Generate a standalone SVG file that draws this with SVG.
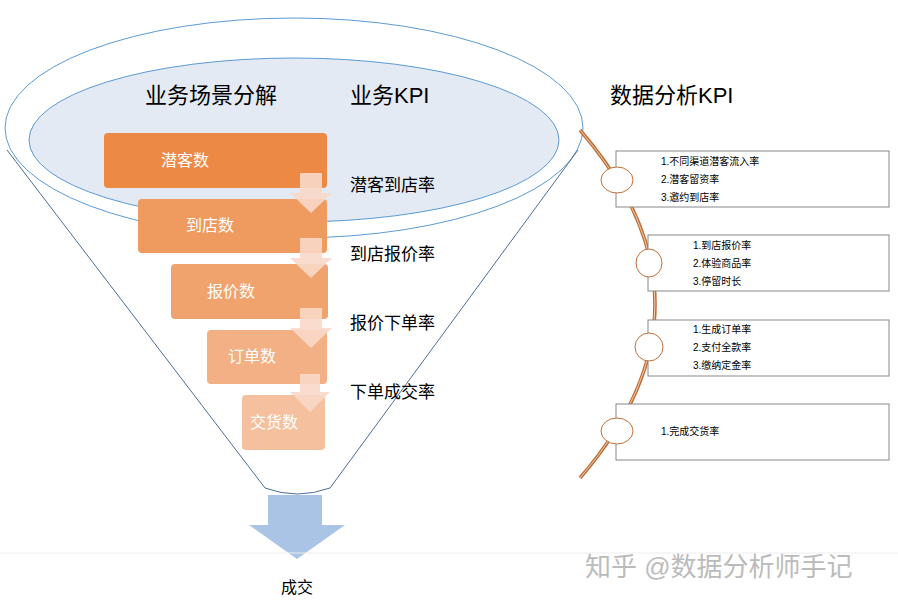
<svg xmlns="http://www.w3.org/2000/svg" width="898" height="603" viewBox="0 0 898 603">
<style>
text{font-family:"Liberation Sans","Noto Sans CJK SC",sans-serif}
.h{font-size:22px;fill:#000}
.k{font-size:17px;fill:#000}
.b{font-size:16px;fill:#fff}
.s{font-size:10px;fill:#000}
.bx{fill:#fff;stroke:#888;stroke-width:1}
.c{fill:#fff;stroke:#c0703a;stroke-width:1}
.ar{fill:#f8d8c8;opacity:.9}
</style>
<rect width="898" height="603" fill="#fff"/>
<g id="funnel">
<ellipse cx="294" cy="128" rx="289" ry="110" fill="#fff" stroke="#5b9bd5" stroke-width="1"/>
<ellipse cx="294" cy="140" rx="265" ry="82" fill="#e4eaf4" stroke="#5b9bd5" stroke-width="1"/>
<path d="M7,150 L265,488 Q297,500 330,488 L578,150" fill="none" stroke="#4a6f94" stroke-width="1"/>
</g>
<g id="headers">
<text class="h" x="145" y="103">业务场景分解</text>
<text class="h" x="350" y="103">业务KPI</text>
<text class="h" x="610" y="103">数据分析KPI</text>
</g>
<g id="n1"><rect x="104" y="133" width="223" height="55" rx="4" fill="#ec8a45"/><text class="b" x="185" y="166" text-anchor="middle">潜客数</text></g>
<g id="n2"><rect x="138" y="199" width="189" height="54" rx="4" fill="#ef9a5e"/><text class="b" x="210" y="231" text-anchor="middle">到店数</text></g>
<g id="n3"><rect x="171" y="264" width="157" height="55" rx="4" fill="#f0a36c"/><text class="b" x="231" y="297" text-anchor="middle">报价数</text></g>
<g id="n4"><rect x="207" y="330" width="120" height="54" rx="4" fill="#f3b084"/><text class="b" x="252" y="362" text-anchor="middle">订单数</text></g>
<g id="n5"><rect x="242" y="395" width="83" height="55" rx="4" fill="#f5c09d"/><text class="b" x="274" y="428" text-anchor="middle">交货数</text></g>
<g id="connectors">
<path class="ar" d="M300,173 h22 v20 h10 l-21,20 l-21,-20 h10z"/>
<path class="ar" d="M300,238 h22 v20 h10 l-21,20 l-21,-20 h10z"/>
<path class="ar" d="M300,308 h22 v20 h10 l-21,20 l-21,-20 h10z"/>
<path class="ar" d="M300,374 h20 v18 h10 l-20,20 l-20,-20 h10z"/>
<path d="M268,495 h54 v30 h23 l-48,34 l-48,-34 h19z" fill="#a9c4e4"/>
<path d="M580,130 Q730,304 580,478" fill="none" stroke="#c0703a" stroke-width="3.5"/>
<path d="M580,130 Q730,304 580,478" fill="none" stroke="#f0c8a8" stroke-width="1"/>
</g>
<g id="kpi">
<text class="k" x="350" y="191">潜客到店率</text>
<text class="k" x="350" y="260">到店报价率</text>
<text class="k" x="350" y="329">报价下单率</text>
<text class="k" x="350" y="398">下单成交率</text>
</g>
<g id="d1"><rect class="bx" x="616" y="151" width="273" height="56"/><ellipse class="c" cx="617" cy="180" rx="16" ry="13"/>
<text class="s" x="661" y="165">1.不同渠道潜客流入率</text><text class="s" x="661" y="183">2.潜客留资率</text><text class="s" x="661" y="201">3.邀约到店率</text></g>
<g id="d2"><rect class="bx" x="648" y="235" width="241" height="56"/><ellipse class="c" cx="649" cy="263" rx="13" ry="14"/>
<text class="s" x="693" y="249">1.到店报价率</text><text class="s" x="693" y="267">2.体验商品率</text><text class="s" x="693" y="285">3.停留时长</text></g>
<g id="d3"><rect class="bx" x="648" y="320" width="241" height="56"/><ellipse class="c" cx="649" cy="347" rx="14" ry="14"/>
<text class="s" x="693" y="333">1.生成订单率</text><text class="s" x="693" y="351">2.支付全款率</text><text class="s" x="693" y="369">3.缴纳定金率</text></g>
<g id="d4"><rect class="bx" x="616" y="404" width="273" height="56"/><ellipse class="c" cx="617" cy="431" rx="16" ry="13"/>
<text class="s" x="661" y="435">1.完成交货率</text></g>
<line x1="0" y1="553" x2="898" y2="553" stroke="#eee"/>
<text x="297" y="593" font-size="16" text-anchor="middle">成交</text>
<text x="585" y="576" font-size="26" fill="#bbb">知乎 @数据分析师手记</text>
</svg>
